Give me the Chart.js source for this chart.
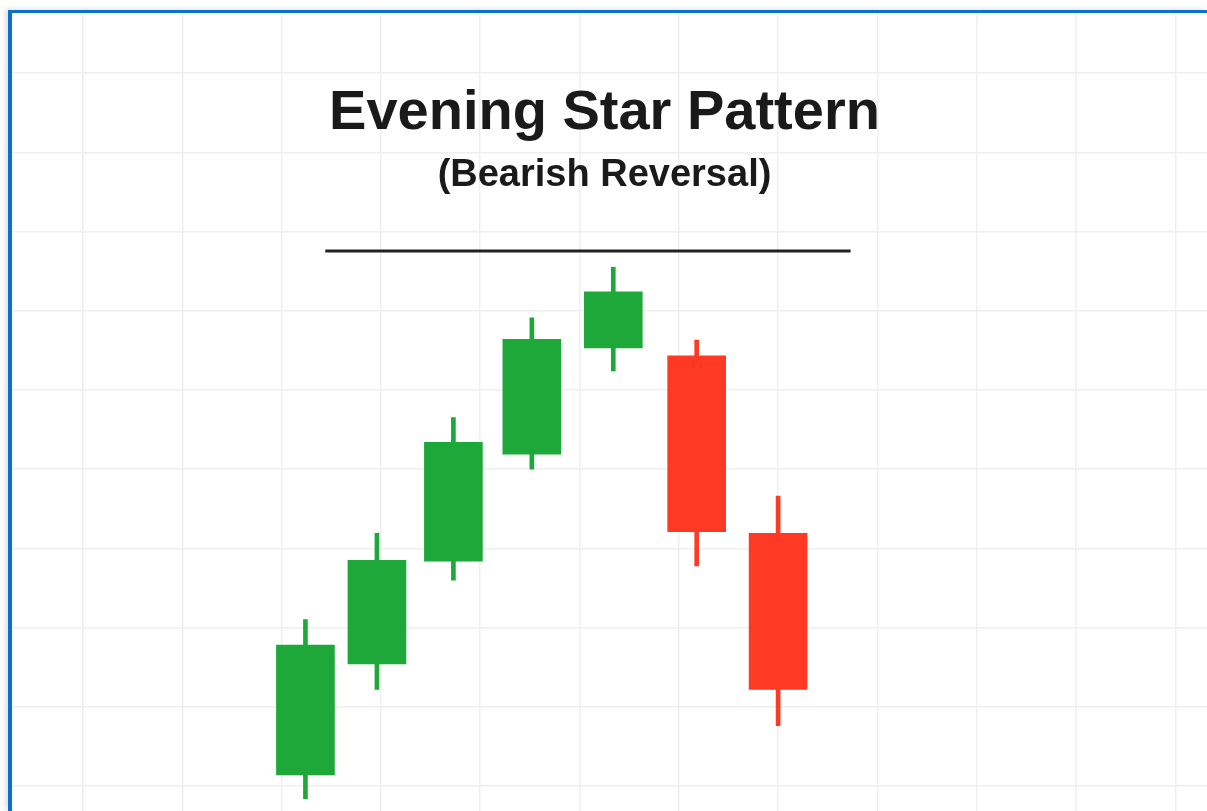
<!DOCTYPE html>
<html>
<head>
<meta charset="utf-8">
<script src="https://cdn.jsdelivr.net/npm/chart.js@4/dist/chart.umd.min.js"></script>
<style>
    html, body { margin: 0; padding: 0; background: #fff; overflow: hidden; }
    body { width: 1207px; height: 811px; position: relative; }
    #frame {
        position: absolute;
        left: 8px;
        top: 10px;
        width: 1195px;
        height: 798px;
        border-left: 4px solid #0a72c8;
        border-top: 3px solid #0a72c8;
        box-shadow: -3px -1px 5px rgba(0, 0, 0, 0.12);
        background: #fff;
    }
    #chart { display: block; }
    .title {
        position: absolute;
        left: 0;
        width: 1207px;
        text-align: center;
        font-family: "Liberation Sans", Arial, sans-serif;
        font-weight: bold;
        color: #1a1a1a;
        line-height: 1;
        pointer-events: none;
    }
    #t1 { top: 82px; font-size: 56px; left: 1px; }
    #t2 { top: 154px; font-size: 38px; left: 1px; }
</style>
</head>
<body>
<div id="frame"><canvas id="chart" width="1195" height="798"></canvas></div>
<div class="title" id="t1">Evening Star Pattern</div>
<div class="title" id="t2">(Bearish Reversal)</div>
<script>
// candle positions (in grid units) and prices
const candleX = [2.24, 2.96, 3.73, 4.52, 5.34, 6.18, 7.0];
const opens = [101.4, 115.4, 128.4, 141.9, 155.3, 154.3, 131.9];
const closes = [117.8, 128.5, 143.4, 156.4, 162.4, 132.1, 112.2];
const highs = [121.0, 131.9, 146.5, 159.1, 165.5, 156.3, 136.6];
const lows = [98.4, 112.2, 126.0, 140.0, 152.4, 127.8, 107.6];
const resistanceX = [2.44, 7.73];
const resistanceLevel = 167.55;

const GREEN = '#1fa83a';
const RED = '#fe3a25';

const colors = opens.map((o, i) => (closes[i] >= o ? GREEN : RED));
const bodies = candleX.map((x, i) => ({ x: x, y: [opens[i], closes[i]] }));
const wicks = candleX.map((x, i) => ({ x: x, y: [lows[i], highs[i]] }));
const resistance = resistanceX.map((x) => ({ x: x, y: resistanceLevel }));

const ctx = document.getElementById('chart').getContext('2d');
new Chart(ctx, {
    type: 'bar',
    data: {
        datasets: [
            {
                label: 'Body',
                data: bodies,
                backgroundColor: colors,
                barThickness: 58,
                grouped: false,
                order: 1,
            },
            {
                label: 'Wick',
                data: wicks,
                backgroundColor: colors,
                barThickness: 4,
                grouped: false,
                order: 2,
            },
            {
                type: 'line',
                label: 'Resistance',
                data: resistance,
                borderColor: '#222',
                borderWidth: 3,
                pointRadius: 0,
                order: 0,
            },
        ],
    },
    options: {
        responsive: false,
        animation: false,
        layout: { padding: 0 },
        plugins: {
            legend: { display: false },
            tooltip: { enabled: false },
            title: { display: false },
        },
        scales: {
            x: {
                type: 'linear',
                offset: false,
                min: -0.715,
                max: 11.319,
                ticks: { display: false, stepSize: 1, includeBounds: false },
                grid: { color: '#efefef', lineWidth: 1.5, drawTicks: false, offset: false },
                border: { display: false },
            },
            y: {
                min: 96.84,
                max: 197.6,
                ticks: { display: false, stepSize: 10, includeBounds: false },
                grid: { color: '#efefef', lineWidth: 1.5, drawTicks: false },
                border: { display: false },
            },
        },
    },
});
</script>
</body>
</html>
